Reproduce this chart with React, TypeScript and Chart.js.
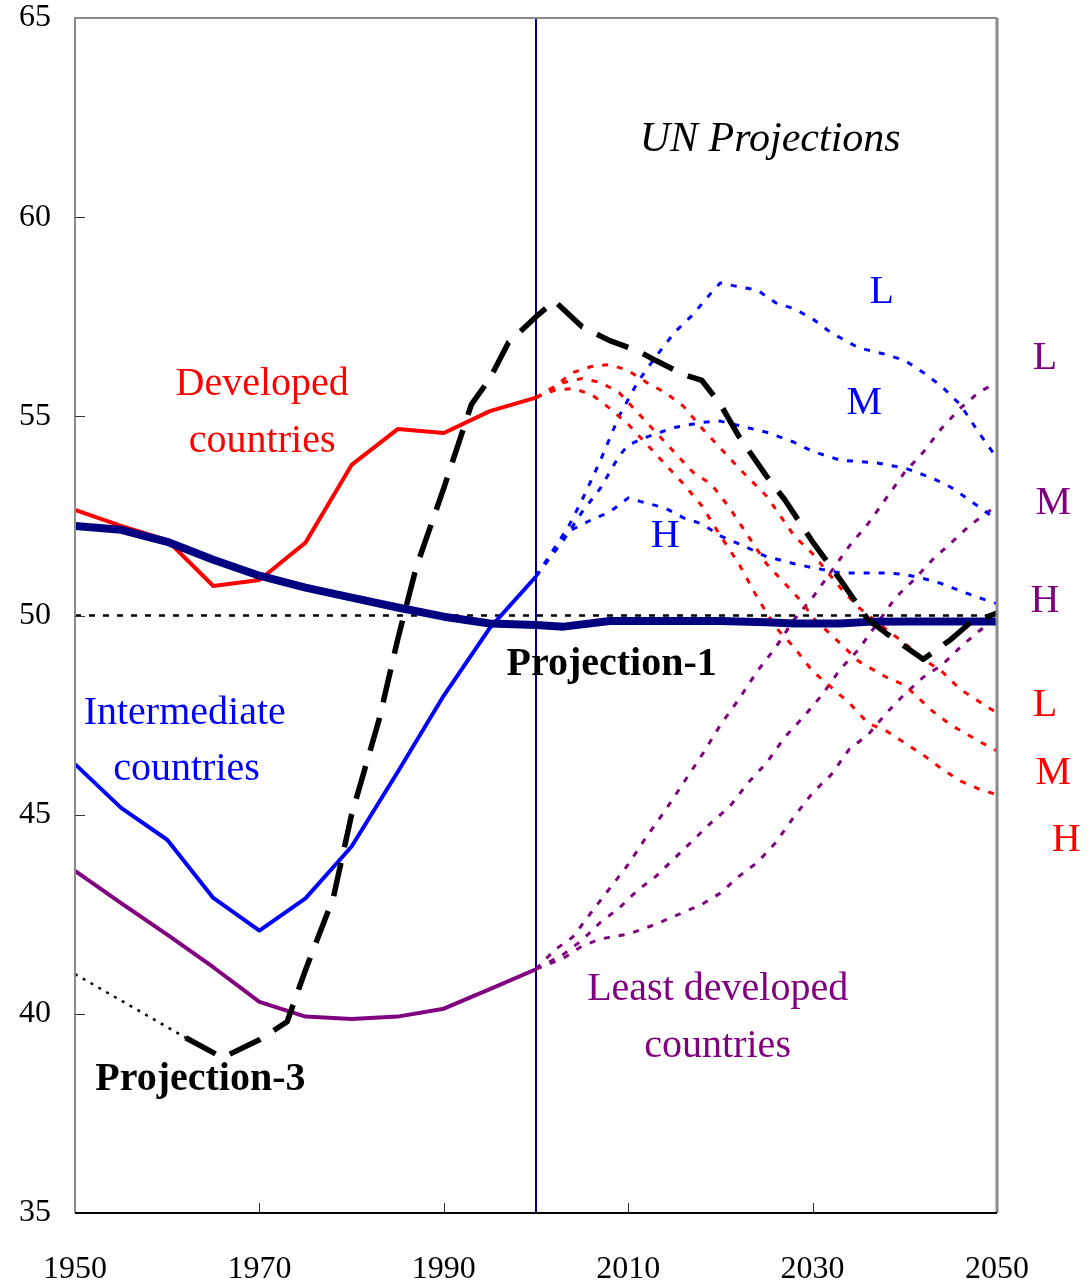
import React, { useEffect, useRef } from "react";
import { Chart, registerables } from "chart.js";

Chart.register(...registerables);

// ---------- data ----------
const histYears = [1950, 1955, 1960, 1965, 1970, 1975, 1980, 1985, 1990, 1995, 2000];
const developed = [52.65, 52.25, 51.89, 50.74, 50.89, 51.83, 53.78, 54.68, 54.58, 55.13, 55.47];
const intermediate = [46.27, 45.17, 44.37, 42.91, 42.09, 42.9, 44.2, 46.07, 47.99, 49.69, 50.98];
const leastDeveloped = [43.59, 42.78, 41.99, 41.17, 40.3, 39.93, 39.87, 39.93, 40.13, 40.62, 41.12];

const proj1Years = [1950, 1955, 1960, 1965, 1970, 1975, 1980, 1985, 1990, 1995, 2000, 2003, 2008, 2015, 2020, 2025, 2028, 2033, 2036, 2040, 2045, 2050];
const projection1 = [52.25, 52.15, 51.85, 51.4, 51.0, 50.7, 50.45, 50.2, 49.97, 49.8, 49.76, 49.72, 49.86, 49.86, 49.86, 49.83, 49.8, 49.8, 49.84, 49.85, 49.85, 49.85];

const proj3EarlyYears = [1950, 1956, 1962];
const projection3Early = [41.0, 40.2, 39.4];
const proj3Years = [1962, 1966, 1970, 1973, 1975, 1978, 1980, 1983, 1985, 1987, 1990, 1993, 1995, 1997, 2000, 2002, 2005, 2008, 2011, 2013, 2016, 2018, 2020, 2022, 2025, 2027, 2030, 2033, 2036, 2038, 2042, 2045, 2047, 2050];
const projection3 = [39.4, 38.9, 39.35, 39.8, 41.1, 42.9, 45.0, 47.4, 49.4, 51.2, 53.2, 55.3, 55.95, 56.85, 57.5, 57.9, 57.25, 56.9, 56.65, 56.4, 56.05, 55.9, 55.3, 54.5, 53.5, 52.9, 51.85, 50.9, 49.9, 49.55, 48.9, 49.4, 49.8, 50.06];

// UN projections – intermediate countries (blue)
const intLYears = [2000, 2003, 2005, 2007, 2009, 2011, 2013, 2015, 2017, 2019, 2020, 2022, 2024, 2026, 2028, 2030, 2032, 2035, 2038, 2040, 2042, 2044, 2046, 2048, 2050];
const intL = [50.98, 52.0, 52.9, 53.9, 55.0, 55.85, 56.5, 57.1, 57.55, 58.1, 58.35, 58.25, 58.17, 57.85, 57.7, 57.45, 57.1, 56.72, 56.55, 56.4, 56.1, 55.75, 55.3, 54.6, 53.95];
const intMYears = [2000, 2003, 2005, 2007, 2009, 2010, 2012, 2015, 2018, 2020, 2022, 2025, 2028, 2030, 2033, 2037, 2040, 2043, 2045, 2047, 2050];
const intM = [50.98, 51.9, 52.6, 53.2, 54.0, 54.28, 54.48, 54.72, 54.85, 54.88, 54.77, 54.6, 54.35, 54.12, 53.9, 53.83, 53.7, 53.45, 53.22, 52.9, 52.4];
const intHYears = [2000, 2003, 2006, 2008, 2010, 2012, 2014, 2016, 2018, 2020, 2022, 2025, 2028, 2030, 2033, 2038, 2040, 2042, 2044, 2046, 2048, 2050];
const intH = [50.98, 52.05, 52.4, 52.6, 52.95, 52.82, 52.7, 52.45, 52.3, 52.0, 51.8, 51.48, 51.3, 51.2, 51.07, 51.07, 51.03, 50.93, 50.8, 50.62, 50.45, 50.3];

// UN projections – developed countries (red)
const devLYears = [2000, 2002, 2004, 2006, 2008, 2010, 2012, 2014, 2016, 2018, 2020, 2022, 2025, 2028, 2030, 2033, 2035, 2038, 2040, 2042, 2044, 2046, 2048, 2050];
const devL = [55.47, 55.75, 56.1, 56.25, 56.3, 56.15, 55.85, 55.6, 55.25, 54.7, 54.2, 53.7, 53.0, 52.0, 51.55, 50.7, 50.2, 49.65, 49.3, 48.9, 48.6, 48.15, 47.85, 47.55];
const devMYears = [2000, 2003, 2005, 2007, 2009, 2011, 2013, 2015, 2017, 2019, 2021, 2023, 2025, 2027, 2029, 2030, 2033, 2035, 2038, 2040, 2043, 2045, 2048, 2050];
const devM = [55.47, 55.85, 55.95, 55.85, 55.6, 55.1, 54.6, 54.1, 53.6, 53.3, 52.7, 52.0, 51.3, 50.8, 50.3, 49.95, 49.3, 48.85, 48.45, 48.25, 47.6, 47.25, 46.85, 46.6];
const devHYears = [2000, 2002, 2004, 2006, 2008, 2010, 2012, 2014, 2016, 2018, 2020, 2022, 2024, 2026, 2028, 2030, 2032, 2034, 2036, 2038, 2040, 2042, 2044, 2046, 2048, 2050];
const devH = [55.47, 55.65, 55.7, 55.55, 55.2, 54.8, 54.3, 53.8, 53.3, 52.75, 52.0, 51.3, 50.45, 49.7, 49.2, 48.6, 48.2, 47.8, 47.3, 47.1, 46.8, 46.5, 46.15, 45.85, 45.65, 45.5];

// UN projections – least developed countries (purple)
const ldcLYears = [2000, 2002, 2004, 2006, 2008, 2010, 2012, 2014, 2016, 2018, 2020, 2022, 2024, 2026, 2028, 2030, 2032, 2034, 2036, 2038, 2040, 2042, 2044, 2046, 2048, 2050];
const ldcL = [41.12, 41.6, 41.93, 42.55, 43.15, 43.75, 44.45, 45.1, 45.8, 46.5, 47.25, 47.9, 48.6, 49.2, 49.9, 50.45, 51.1, 51.75, 52.3, 52.95, 53.6, 54.1, 54.7, 55.2, 55.6, 55.85];
const ldcMYears = [2000, 2003, 2005, 2007, 2009, 2011, 2013, 2015, 2017, 2019, 2021, 2023, 2025, 2027, 2029, 2031, 2033, 2035, 2037, 2039, 2041, 2043, 2045, 2047, 2049, 2050];
const ldcM = [41.12, 41.5, 41.85, 42.3, 42.65, 43.1, 43.45, 43.9, 44.35, 44.8, 45.2, 45.8, 46.3, 46.95, 47.45, 48.0, 48.65, 49.15, 49.8, 50.45, 50.9, 51.4, 51.82, 52.25, 52.6, 52.75];
const ldcHYears = [2000, 2003, 2005, 2007, 2010, 2013, 2016, 2018, 2020, 2022, 2024, 2026, 2028, 2030, 2032, 2034, 2036, 2038, 2040, 2042, 2044, 2046, 2048, 2050];
const ldcH = [41.12, 41.4, 41.7, 41.88, 42.0, 42.25, 42.55, 42.75, 43.03, 43.45, 43.8, 44.3, 44.95, 45.55, 46.0, 46.65, 47.0, 47.55, 48.03, 48.45, 48.75, 49.2, 49.6, 49.95];

const refYears = [1950, 2050];
const refValue = 50;
const projectionStartYear = 2000;

const xMin = 1950;
const xMax = 2050;
const xStep = 20;
const yMin = 35;
const yMax = 65;
const yStep = 5;

// ---------- annotations (data coordinates) ----------
const SERIF = "'Liberation Serif', 'Times New Roman', serif";
const annotations = [
  { text: "UN Projections", x: 2025.4, y: 61.94, color: "#000000", font: `italic 42px ${SERIF}` },
  { text: "Developed", x: 1970.3, y: 55.79, color: "#FF0000", font: `40px ${SERIF}` },
  { text: "countries", x: 1970.3, y: 54.38, color: "#FF0000", font: `40px ${SERIF}` },
  { text: "Intermediate", x: 1961.9, y: 47.55, color: "#0000FF", font: `40px ${SERIF}` },
  { text: "countries", x: 1962.1, y: 46.14, color: "#0000FF", font: `40px ${SERIF}` },
  { text: "Least developed", x: 2019.7, y: 40.6, color: "#800080", font: `40px ${SERIF}` },
  { text: "countries", x: 2019.7, y: 39.17, color: "#800080", font: `40px ${SERIF}` },
  { text: "Projection-1", x: 2008.2, y: 48.76, color: "#000000", font: `bold 40px ${SERIF}` },
  { text: "Projection-3", x: 1963.6, y: 38.34, color: "#000000", font: `bold 40px ${SERIF}` },
  { text: "L", x: 2037.5, y: 58.12, color: "#0000FF", font: `40px ${SERIF}` },
  { text: "M", x: 2035.6, y: 55.31, color: "#0000FF", font: `40px ${SERIF}` },
  { text: "H", x: 2014.0, y: 51.99, color: "#0000FF", font: `40px ${SERIF}` },
  { text: "L", x: 2055.2, y: 56.46, color: "#800080", font: `40px ${SERIF}` },
  { text: "M", x: 2056.1, y: 52.82, color: "#800080", font: `40px ${SERIF}` },
  { text: "H", x: 2055.2, y: 50.34, color: "#800080", font: `40px ${SERIF}` },
  { text: "L", x: 2055.2, y: 47.75, color: "#FF0000", font: `40px ${SERIF}` },
  { text: "M", x: 2056.1, y: 46.04, color: "#FF0000", font: `40px ${SERIF}` },
  { text: "H", x: 2057.5, y: 44.36, color: "#FF0000", font: `40px ${SERIF}` },
];

const pts = (xs: number[], ys: number[]) => xs.map((x, i) => ({ x, y: ys[i] }));

const frameAndLabels = {
  id: "frameAndLabels",
  beforeDatasetsDraw(chart: any) {
    const { ctx, chartArea: a, scales } = chart;
    const xs = scales.x;
    ctx.save();
    const vx = xs.getPixelForValue(projectionStartYear);
    ctx.strokeStyle = "#000080";
    ctx.lineWidth = 2;
    ctx.beginPath();
    ctx.moveTo(vx, a.top);
    ctx.lineTo(vx, a.bottom);
    ctx.stroke();
    ctx.restore();
  },
  afterDatasetsDraw(chart: any) {
    const { ctx, chartArea: a, scales } = chart;
    const xs = scales.x;
    const ys = scales.y;
    ctx.save();
    ctx.strokeStyle = "#8a8a8a";
    ctx.lineWidth = 2;
    ctx.beginPath();
    ctx.moveTo(a.left, a.bottom);
    ctx.lineTo(a.left, a.top);
    ctx.lineTo(a.right, a.top);
    ctx.stroke();
    ctx.lineWidth = 3;
    ctx.beginPath();
    ctx.moveTo(a.right, a.top);
    ctx.lineTo(a.right, a.bottom);
    ctx.stroke();
    ctx.strokeStyle = "#000000";
    ctx.lineWidth = 2;
    ctx.beginPath();
    ctx.moveTo(a.left, a.bottom);
    ctx.lineTo(a.right, a.bottom);
    ctx.stroke();
    ctx.lineWidth = 1;
    ctx.strokeStyle = "#333333";
    for (let v = yMin + yStep; v < yMax; v += yStep) {
      const py = Math.round(ys.getPixelForValue(v)) + 0.5;
      ctx.beginPath();
      ctx.moveTo(a.left, py);
      ctx.lineTo(a.left + 10, py);
      ctx.stroke();
    }
    for (let v = xMin + xStep; v < xMax; v += xStep) {
      const px = Math.round(xs.getPixelForValue(v)) + 0.5;
      ctx.beginPath();
      ctx.moveTo(px, a.bottom);
      ctx.lineTo(px, a.bottom - 10);
      ctx.stroke();
    }
    ctx.textAlign = "center";
    ctx.textBaseline = "middle";
    for (const an of annotations) {
      ctx.font = an.font;
      ctx.fillStyle = an.color;
      ctx.fillText(an.text, xs.getPixelForValue(an.x), ys.getPixelForValue(an.y));
    }
    ctx.restore();
  },
};

export default function App() {
  const ref = useRef<HTMLCanvasElement>(null);
  useEffect(() => {
    if (!ref.current) return;
    const dotted = { borderWidth: 3, borderDash: [6, 9], pointRadius: 0, tension: 0, fill: false };
    const chart = new Chart(ref.current, {
      type: "line",
      data: {
        datasets: [
          { label: "ref50", data: pts(refYears, refYears.map(() => refValue)), borderColor: "#000000", borderWidth: 2.5, borderDash: [6, 8], pointRadius: 0, order: 20 },
          { label: "devL", data: pts(devLYears, devL), borderColor: "#FF0000", ...dotted, order: 10 },
          { label: "devM", data: pts(devMYears, devM), borderColor: "#FF0000", ...dotted, order: 10 },
          { label: "devH", data: pts(devHYears, devH), borderColor: "#FF0000", ...dotted, order: 10 },
          { label: "intL", data: pts(intLYears, intL), borderColor: "#0000FF", ...dotted, order: 10 },
          { label: "intM", data: pts(intMYears, intM), borderColor: "#0000FF", ...dotted, order: 10 },
          { label: "intH", data: pts(intHYears, intH), borderColor: "#0000FF", ...dotted, order: 10 },
          { label: "ldcL", data: pts(ldcLYears, ldcL), borderColor: "#800080", ...dotted, order: 10 },
          { label: "ldcM", data: pts(ldcMYears, ldcM), borderColor: "#800080", ...dotted, order: 10 },
          { label: "ldcH", data: pts(ldcHYears, ldcH), borderColor: "#800080", ...dotted, order: 10 },
          { label: "Developed", data: pts(histYears, developed), borderColor: "#FF0000", borderWidth: 4, pointRadius: 0, order: 5 },
          { label: "Intermediate", data: pts(histYears, intermediate), borderColor: "#0000FF", borderWidth: 4, pointRadius: 0, order: 5 },
          { label: "Least developed", data: pts(histYears, leastDeveloped), borderColor: "#800080", borderWidth: 4, pointRadius: 0, order: 5 },
          { label: "Projection-1", data: pts(proj1Years, projection1), borderColor: "#000080", borderWidth: 8, pointRadius: 0, order: 3 },
          { label: "Projection-3 early", data: pts(proj3EarlyYears, projection3Early), borderColor: "#000000", borderWidth: 2.5, borderDash: [3, 6], pointRadius: 0, order: 2 },
          { label: "Projection-3", data: pts(proj3Years, projection3), borderColor: "#000000", borderWidth: 5.5, borderDash: [34, 16], pointRadius: 0, order: 1 },
        ],
      },
      options: {
        responsive: false,
        animation: false,
        layout: { padding: { left: 0, right: 95, top: 18, bottom: 0 } },
        plugins: { legend: { display: false }, tooltip: { enabled: false } },
        elements: { line: { borderJoinStyle: "round" } },
        scales: {
          x: {
            type: "linear",
            min: xMin,
            max: xMax,
            grid: { display: false, drawTicks: false },
            border: { display: false },
            ticks: {
              stepSize: xStep,
              padding: 37,
              color: "#000000",
              font: { family: SERIF, size: 32 },
              maxRotation: 0,
              callback: (v: any) => String(v),
            },
            afterFit: (s: any) => { s.height = 68; s.paddingLeft = 0; s.paddingRight = 0; },
          },
          y: {
            type: "linear",
            min: yMin,
            max: yMax,
            grid: { display: false, drawTicks: false },
            border: { display: false },
            ticks: {
              stepSize: yStep,
              padding: 24,
              color: "#000000",
              font: { family: SERIF, size: 32 },
              callback: (v: any) => String(v),
            },
            afterFit: (s: any) => { s.width = 75; s.paddingTop = 0; s.paddingBottom = 0; },
          },
        },
      },
      plugins: [frameAndLabels],
    });
    return () => chart.destroy();
  }, []);
  return (
    <div style={{ position: "absolute", left: 0, top: 0, width: 1092, height: 1281, background: "#ffffff" }}>
      <canvas ref={ref} width={1092} height={1281} style={{ display: "block" }} />
    </div>
  );
}
